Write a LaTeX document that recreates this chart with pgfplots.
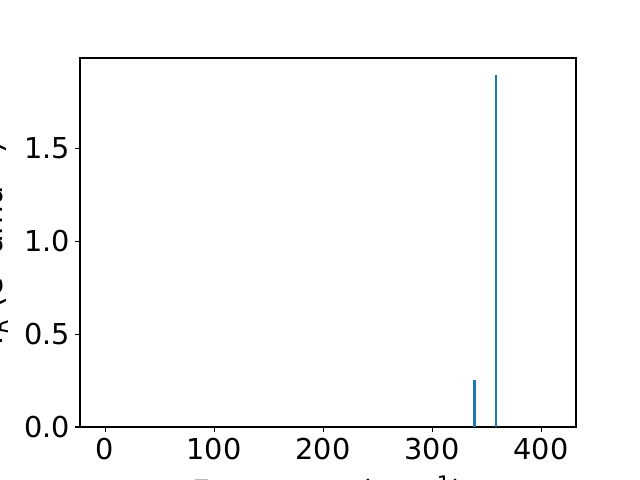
\documentclass[border=0pt]{standalone}
\usepackage{pgfplots}
\pgfplotsset{compat=1.18}
\usepackage{fontspec}
\setmainfont{DejaVu Sans}
\definecolor{mplblue}{HTML}{1F77B4}
\begin{document}
\begin{tikzpicture}
\path[use as bounding box] (0,0) rectangle (460.8pt,345.6pt);
\clip (0,0) rectangle (460.8pt,345.6pt);
\begin{axis}[
  at={(57.6pt,38.16pt)}, anchor=south west,
  scale only axis, width=357.12pt, height=265.68pt,
  xmin=-23, xmax=432, ymin=0, ymax=1.988,
  xtick={0,100,200,300,400},
  ytick={0,0.5,1,1.5},
  yticklabel style={/pgf/number format/.cd, fixed, fixed zerofill, precision=1},
  /pgf/number format/assume math mode=true,
  tick align=outside, tick pos=left,
  major tick length=3.5pt,
  every tick/.style={black, line width=0.8pt},
  axis line style={line width=0.8pt},
  ticklabel style={font=\fontsize{20.7}{24}\selectfont},
  label style={font=\fontsize{22}{26}\selectfont},
  xlabel={Frequency (cm\textsuperscript{−1})},
  ylabel={\textit{I}\textsubscript{\textit{R}} (e\textsuperscript{2} amu\textsuperscript{−1})},
  xlabel shift=5pt,
  ylabel shift=5pt,
  xticklabel style={yshift=-1pt},
]
\addplot[ybar, bar width=2.75, fill=mplblue, draw=none, bar shift=0pt] coordinates {(338.8,0.251)};
\addplot[ybar, bar width=1.8, fill=mplblue, draw=none, bar shift=0pt] coordinates {(358.7,1.896)};
\end{axis}
\end{tikzpicture}
\end{document}
